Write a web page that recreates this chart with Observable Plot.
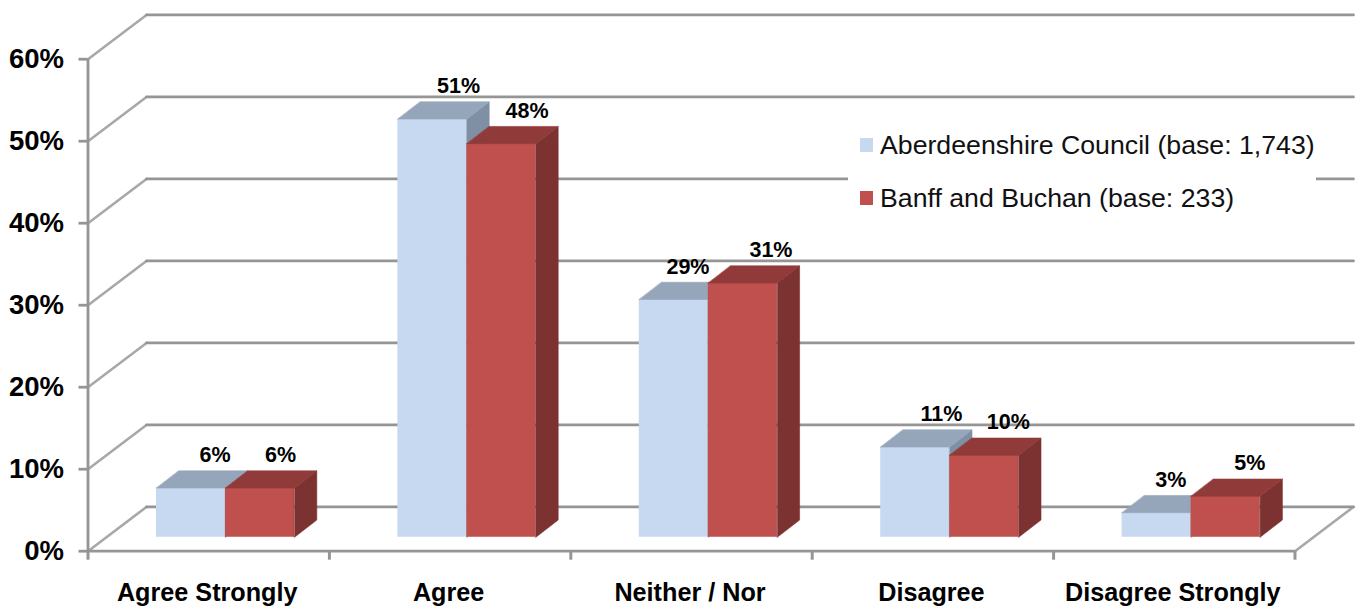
<!DOCTYPE html>
<html>
<head>
<meta charset="utf-8">
<script src="https://cdn.jsdelivr.net/npm/d3@7"></script>
<script src="https://cdn.jsdelivr.net/npm/@observablehq/plot@0.6"></script>
<style>
html,body{margin:0;padding:0;background:#fff;}
#wrap{position:relative;width:1359px;height:606px;overflow:hidden;font-family:"Liberation Sans",Arial,sans-serif;}
#legend{position:absolute;left:848px;top:122px;width:468px;height:102px;background:#fff;color:#111;font-size:26.7px;}
.row{position:absolute;left:12px;display:flex;align-items:center;white-space:nowrap;height:30px;}
.sw{width:13px;height:14px;margin-right:7px;flex:none;}
svg{display:block;}
</style>
</head>
<body>
<div id="wrap"></div>
<script>
const categories = ["Agree Strongly", "Agree", "Neither / Nor", "Disagree", "Disagree Strongly"];
const seriesNames = ["Aberdeenshire Council (base: 1,743)", "Banff and Buchan (base: 233)"];
const aberdeenshire = [6, 51, 29, 11, 3];
const banff = [6, 48, 31, 10, 5];
const yTicks = [0, 10, 20, 30, 40, 50, 60];
const faceColors = [
  {front: "#c6d9f1", side: "#7f90a4", top: "#95a6bb"},
  {front: "#c0504d", side: "#7b3231", top: "#903b39"}
];
const gridColor = "#959595";
const slantColor = "#a8a8a8";

// 3D geometry, in data units (category units on x, percent on y)
const wallX = 0.2423, wallY = 5.4;
const centre = 0.5696, barW = 0.2858, baseY = 1.7, depthX = 0.0924, depthY = 2.1;
// the reference's data labels were placed by hand, so each has its own small shift (pixels)
const labelShift = [[0, 2, -10, 2, -10], [-3.5, 1.5, 4, 0, 0]];

const seriesValues = [aberdeenshire, banff];
const bars = seriesValues.map((vals, s) => vals.map((v, i) => {
  const x1 = i + centre + (s - 1) * barW, x2 = x1 + barW;
  return {i, s, v, x1, x2, y1: baseY, y2: baseY + v};
}));
const poly = (bar, pts) => pts.map(([x, y]) => ({id: bar.i, x, y}));
const side = b => poly(b, [[b.x2, b.y1], [b.x2 + depthX, b.y1 + depthY], [b.x2 + depthX, b.y2 + depthY], [b.x2, b.y2]]);
const top_ = b => poly(b, [[b.x1, b.y2], [b.x2, b.y2], [b.x2 + depthX, b.y2 + depthY], [b.x1 + depthX, b.y2 + depthY]]);

const slants = yTicks.flatMap(t => [{t, x: 0, y: t}, {t, x: wallX, y: t + wallY}]);
const backLines = yTicks.flatMap(t => [{t, x: wallX, y: t + wallY}, {t, x: 5 + wallX, y: t + wallY}]);
const floorSide = [{x: 5, y: 0}, {x: 5 + wallX, y: wallY}];

const barMarks = bars.flatMap((bs, s) => {
  const c = faceColors[s];
  const closed = {x: "x", y: "y", z: "id", curve: "linear-closed", strokeWidth: 0.6};
  return [
    Plot.rect(bs, {x1: "x1", x2: "x2", y1: "y1", y2: "y2", fill: c.front}),
    Plot.line(bs.flatMap(side), {...closed, fill: c.side, stroke: c.side}),
    Plot.line(bs.flatMap(top_), {...closed, fill: c.top, stroke: c.top})
  ];
});
const labels = bars.flat().map(b => ({
  x: (b.x1 + b.x2) / 2 + 0.1 + labelShift[b.s][b.i] / 241.4,
  y: b.y2 + 4,
  t: b.v + "%"
}));

const chart = Plot.plot({
  width: 1359, height: 606,
  marginLeft: 87.5, marginRight: 64.5, marginTop: 58.7, marginBottom: 55.3,
  style: {fontFamily: '"Liberation Sans", Arial, sans-serif', background: "#fff", color: "#000", overflow: "visible"},
  x: {domain: [0, 5], axis: null},
  y: {domain: [0, 60], axis: null},
  marks: [
    Plot.line(slants, {x: "x", y: "y", z: "t", stroke: slantColor, strokeWidth: 2.6}),
    Plot.line(floorSide, {x: "x", y: "y", stroke: slantColor, strokeWidth: 2.6}),
    Plot.line(backLines, {x: "x", y: "y", z: "t", stroke: gridColor, strokeWidth: 2.7}),
    Plot.ruleY([0], {x1: 0, x2: 5, stroke: gridColor, strokeWidth: 2.7}),
    Plot.ruleX([0], {y1: 0, y2: 60, stroke: gridColor, strokeWidth: 2.8}),
    Plot.axisY({ticks: yTicks, tickSize: 9, tickPadding: 15, tickFormat: d => d + "%", stroke: gridColor, strokeWidth: 2.8,
      fill: "#000", fontSize: 27.5, fontWeight: "bold", label: null}),
    Plot.axisX({ticks: [0, 1, 2, 3, 4, 5], tickSize: 9, tickFormat: () => "", stroke: gridColor, strokeWidth: 3, label: null}),
    Plot.axisX({ticks: [0.5, 1.5, 2.5, 3.5, 4.5], tickSize: 0, tickPadding: 32, dx: -1.5, tickFormat: d => categories[Math.floor(d)],
      fill: "#000", fontSize: 25.2, fontWeight: "bold", label: null}),
    ...barMarks,
    Plot.text(labels, {x: "x", y: "y", text: "t", fontSize: 21.5, fontWeight: "bold", fill: "#000"})
  ]
});
const wrap = document.getElementById("wrap");
wrap.appendChild(chart);

const legend = document.createElement("div");
legend.id = "legend";
seriesNames.forEach((name, s) => {
  const row = document.createElement("div");
  row.className = "row";
  row.style.top = (8 + s * 53) + "px";
  const sw = document.createElement("span");
  sw.className = "sw";
  sw.style.background = faceColors[s].front;
  row.appendChild(sw);
  const t = document.createElement("span");
  t.textContent = name;
  row.appendChild(t);
  legend.appendChild(row);
});
wrap.appendChild(legend);
</script>
</body>
</html>
